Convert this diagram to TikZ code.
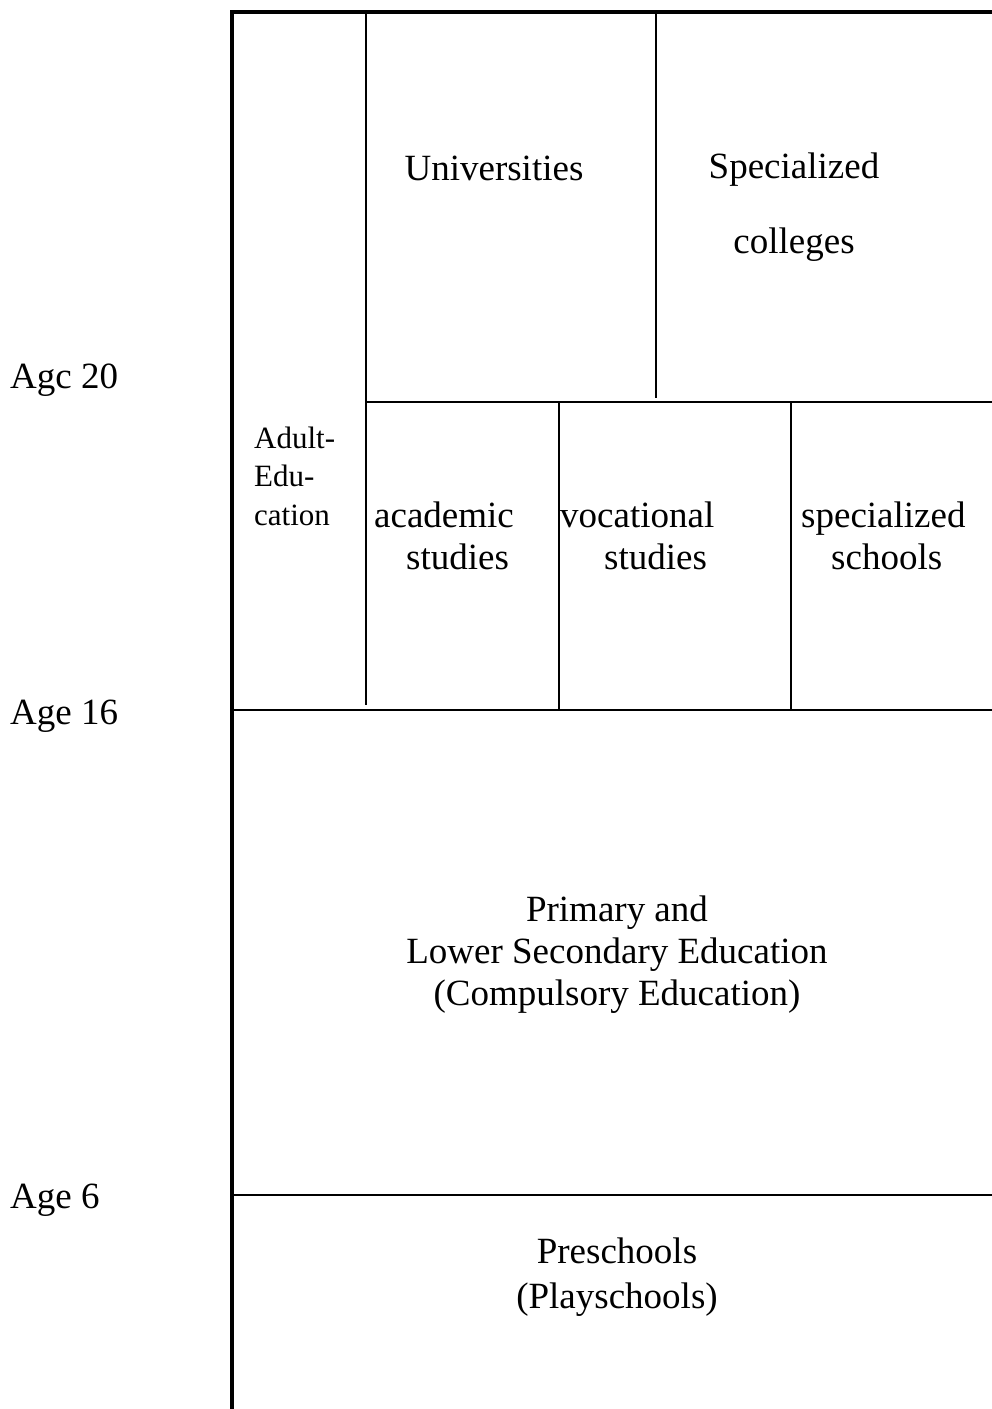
\documentclass[tikz,border=0pt]{standalone}
\usepackage{fontspec}
\setmainfont{Liberation Serif}
\begin{document}
\begin{tikzpicture}[x=1pt,y=-1pt,
  thickline/.style={line width=3.2pt},
  thinline/.style={line width=1.6pt},
  lbl/.style={inner sep=0pt, font=\fontsize{37}{42}\selectfont},
  smalllbl/.style={inner sep=0pt, font=\fontsize{31}{38.5}\selectfont, align=left}
]
\useasboundingbox (0,0) rectangle (992,1409);
% frame
\draw[thickline] (232,1409) -- (232,12) -- (992,12);
% inner lines
\draw[thinline] (366,12) -- (366,705);
\draw[thinline] (656,12) -- (656,398);
\draw[thinline] (366,402) -- (992,402);
\draw[thinline] (559,402) -- (559,710);
\draw[thinline] (791,402) -- (791,710);
\draw[thinline] (232,710) -- (992,710);
\draw[thinline] (232,1195) -- (992,1195);
% labels
\node[lbl] (univ) at (494,168) {Universities};
\node[lbl, align=center, font=\fontsize{37}{75}\selectfont] (speccol) at (794,207) {Specialized\\colleges};
\node[smalllbl, anchor=west] (adult) at (254,476) {Adult-\\Edu-\\cation};
\node[lbl, align=left, anchor=west] (acad) at (374,536) {academic\\\hspace*{32pt}studies};
\node[lbl, align=left, anchor=west] (voc) at (560,536) {vocational\\\hspace*{44pt}studies};
\node[lbl, align=left, anchor=west] (specs) at (801,536) {specialized\\\hspace*{30pt}schools};
\node[lbl, align=center] (prim) at (617,955) {Primary and\\Lower Secondary Education\\(Compulsory Education)};
\node[lbl, align=center, font=\fontsize{37}{45}\selectfont] (pre) at (617,1277) {Preschools\\(Playschools)};
\node[lbl, anchor=west] (a20) at (10,380) {Agc 20};
\node[lbl, anchor=west] (a16) at (10,716) {Age 16};
\node[lbl, anchor=west] (a6) at (10,1200) {Age 6};
\end{tikzpicture}
\end{document}
